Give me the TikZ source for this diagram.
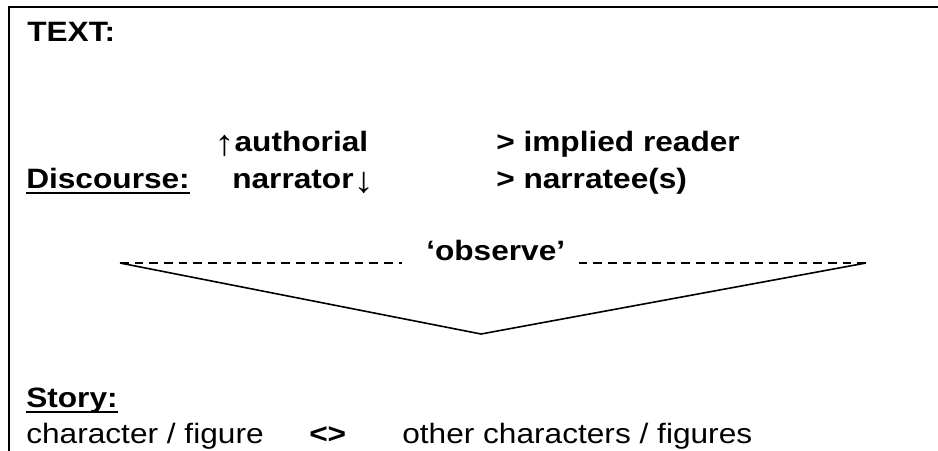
\documentclass[tikz,border=0pt]{standalone}
\usepackage{fontspec}
\setmainfont[FakeStretch=1.13]{Liberation Sans}
\usepackage{tikz}

\newsavebox{\ulsave}
\newcommand{\ulword}[1]{\sbox{\ulsave}{#1}\rlap{\usebox{\ulsave}}\rule[-4.5pt]{\wd\ulsave}{1.3pt}}
\newcommand{\thinarrow}[1]{\raisebox{-3pt}{\fontsize{27}{28}\selectfont\mdseries #1}}

\begin{document}
\begin{tikzpicture}[
    x=0.75pt, y=-0.75pt,
    every node/.style={anchor=base west, inner sep=0pt, font=\fontsize{21}{25}\selectfont\bfseries},
    plain/.style={font=\fontsize{21}{25}\selectfont},
    frame/.style={line width=1.4pt},
    fan/.style={line width=1.2pt},
    gap/.style={line width=0.9pt, dash pattern=on 6.5pt off 4.5pt}
    ]
\useasboundingbox (0,0) rectangle (938,450);

% Frame
\draw[frame] (9,460) -- (9,7.3) -- (950,7.3);

% Text level
\node (text label) at (27,41) {TEXT:};

% Discourse level
\node (authorial) at (214,151) {\thinarrow{↑}authorial};
\node (implied) at (496,151) {> implied reader};
\node (discourse) at (26,188) {\ulword{Discourse:}};
\node (narrator) at (232,188) {narrator\thinarrow{↓}};
\node (narratee) at (496,188) {> narratee(s)};

% Observe
\node (observe) at (426,260) {‘observe’};
\coordinate (left end) at (120,263);
\coordinate (apex) at (481,334);
\coordinate (right end) at (866,263);
\path (left end -| observe.west) ++(-18pt,0) coordinate (obs left);
\path (left end -| observe.east) ++(10pt,0) coordinate (obs right);

\draw[gap] (left end) -- (obs left);
\draw[gap] (obs right) -- (right end);
\draw[fan] (left end) -- (apex) -- (right end);

% Story level
\node (story) at (26,407) {\ulword{Story:}};
\node[plain] (self) at (26,443) {character / figure};
\node (versus) at (309,443) {<>};
\node[plain] (others) at (402,443) {other characters / figures};

\end{tikzpicture}
\end{document}
